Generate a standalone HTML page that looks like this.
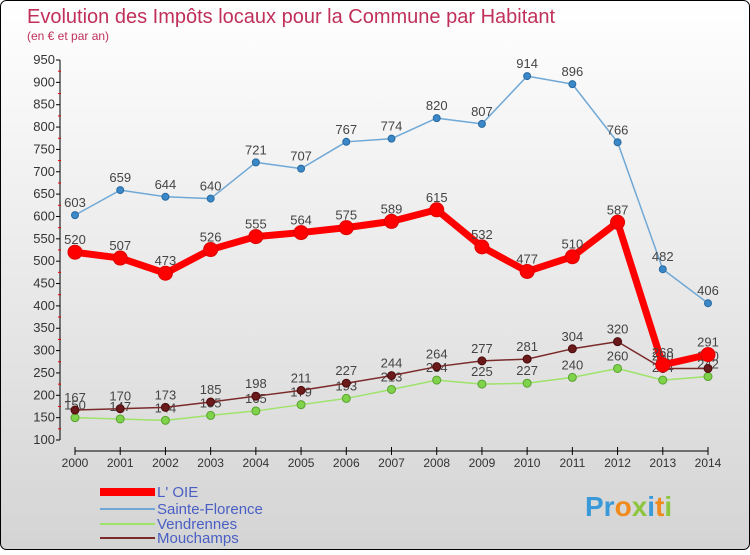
<!DOCTYPE html>
<html><head><meta charset="utf-8"><style>
body{margin:0;}
#c{position:relative;width:750px;height:550px;}
svg text{font-family:"Liberation Sans",sans-serif;}
</style></head><body>
<div id="c">
<svg id="s" width="750" height="550" xmlns="http://www.w3.org/2000/svg">
<defs><linearGradient id="bg" x1="0" y1="0" x2="0" y2="1"><stop offset="0" stop-color="#ffffff"/><stop offset="1" stop-color="#d4d4d4"/></linearGradient></defs>
<rect x="0.5" y="0.5" width="749" height="549" rx="6" fill="url(#bg)" stroke="#000"/>
<text x="27" y="23" font-size="20" fill="#c0305a">Evolution des Impôts locaux pour la Commune par Habitant</text>
<text x="27" y="40" font-size="12" fill="#c0305a">(en € et par an)</text>
<g id="axes"></g><g id="series"></g><g id="legend"></g>
<text x="585" y="516" font-size="28" font-weight="bold" fill="#3a9ad9">Pr<tspan fill="#f08a1c">o</tspan><tspan fill="#8cc63f">x</tspan><tspan fill="#3a9ad9">i</tspan><tspan fill="#f08a1c">t</tspan><tspan fill="#8cc63f">i</tspan></text>
</svg></div>
<script>
const years=[2000,2001,2002,2003,2004,2005,2006,2007,2008,2009,2010,2011,2012,2013,2014];
const yTicks=[100,150,200,250,300,350,400,450,500,550,600,650,700,750,800,850,900,950];
const loie=[520,507,473,526,555,564,575,589,615,532,477,510,587,268,291];
const sainteFlorence=[603,659,644,640,721,707,767,774,820,807,914,896,766,482,406];
const vendrennes=[150,147,144,155,165,179,193,213,234,225,227,240,260,234,242];
const mouchamps=[167,170,173,185,198,211,227,244,264,277,281,304,320,260,260];
const NS="http://www.w3.org/2000/svg";
function X(i){return 75+i*(708-75)/14;}
function Y(v){return 440-(v-100)*380/850;}
function mk(t,a,p){const e=document.createElementNS(NS,t);for(const k in a)e.setAttribute(k,a[k]);p.appendChild(e);return e;}
const ax=document.getElementById('axes');
const yl=mk('line',{x1:60,y1:Y(950),x2:60,y2:440,stroke:'#000'},ax);


yTicks.forEach(v=>{
 mk('line',{x1:56,y1:Y(v),x2:60,y2:Y(v),stroke:'#000'},ax);
 if(v<950) mk('line',{x1:58,y1:Y(v+25),x2:61,y2:Y(v+25),stroke:'#e00'},ax);
 const t=mk('text',{x:55,y:Y(v)+4,'font-size':13,fill:'#333','text-anchor':'end'},ax);t.textContent=v;
 
 
});
const xl=mk('line',{x1:X(0),y1:451,x2:X(14),y2:451,stroke:'#000'},ax);


years.forEach((y,i)=>{
 mk('line',{x1:X(i),y1:447,x2:X(i),y2:455,stroke:'#000'},ax);
 const t=mk('text',{x:X(i),y:467,'font-size':12,fill:'#333','text-anchor':'middle'},ax);t.textContent=y;
 
 
});
const sg=document.getElementById('series');
function draw(name,data,color,w,r,dot,dotStroke,fs){
 const g=mk('g',{},sg);
 
 
 mk('polyline',{points:data.map((v,i)=>X(i)+','+Y(v)).join(' '),fill:'none',stroke:color,'stroke-width':w,'stroke-linejoin':'round'},g);
 data.forEach((v,i)=>{
  const c=mk('circle',{cx:X(i),cy:Y(v),r:r,fill:dot,stroke:dotStroke,'stroke-width':1},g);
  
  
  const t=mk('text',{x:X(i),y:Y(v)-8,'font-size':fs,fill:'#444','text-anchor':'middle'},g);t.textContent=v;
  
  
 });
}
draw('sainte-florence',sainteFlorence,'#6fa8d6',1.5,3.5,'#3a88c8','#2a6aa0',13);
draw('vendrennes',vendrennes,'#9ee36a',1.5,4,'#7ed34a','#5aa030',13);
draw('mouchamps',mouchamps,'#7a2a2a',1.5,4,'#6a1a1a','#4a0a0a',13);
draw('l-oie',loie,'#ff0000',7,7,'#ff0000','#dd0000',13);
const lg=document.getElementById('legend');
[['L\' OIE','#ff0000',8,492],['Sainte-Florence','#6fa8d6',2,509],['Vendrennes','#9ee36a',2,524],['Mouchamps','#7a2a2a',2,538]].forEach(e=>{
 const g=mk('g',{},lg);
 
 
 mk('line',{x1:100,y1:e[3],x2:155,y2:e[3],stroke:e[1],'stroke-width':e[2]},g);
 const t=mk('text',{x:157,y:e[3]+5,'font-size':15,fill:'#4a5fc4'},g);t.textContent=e[0];
});
</script>
</body></html>
